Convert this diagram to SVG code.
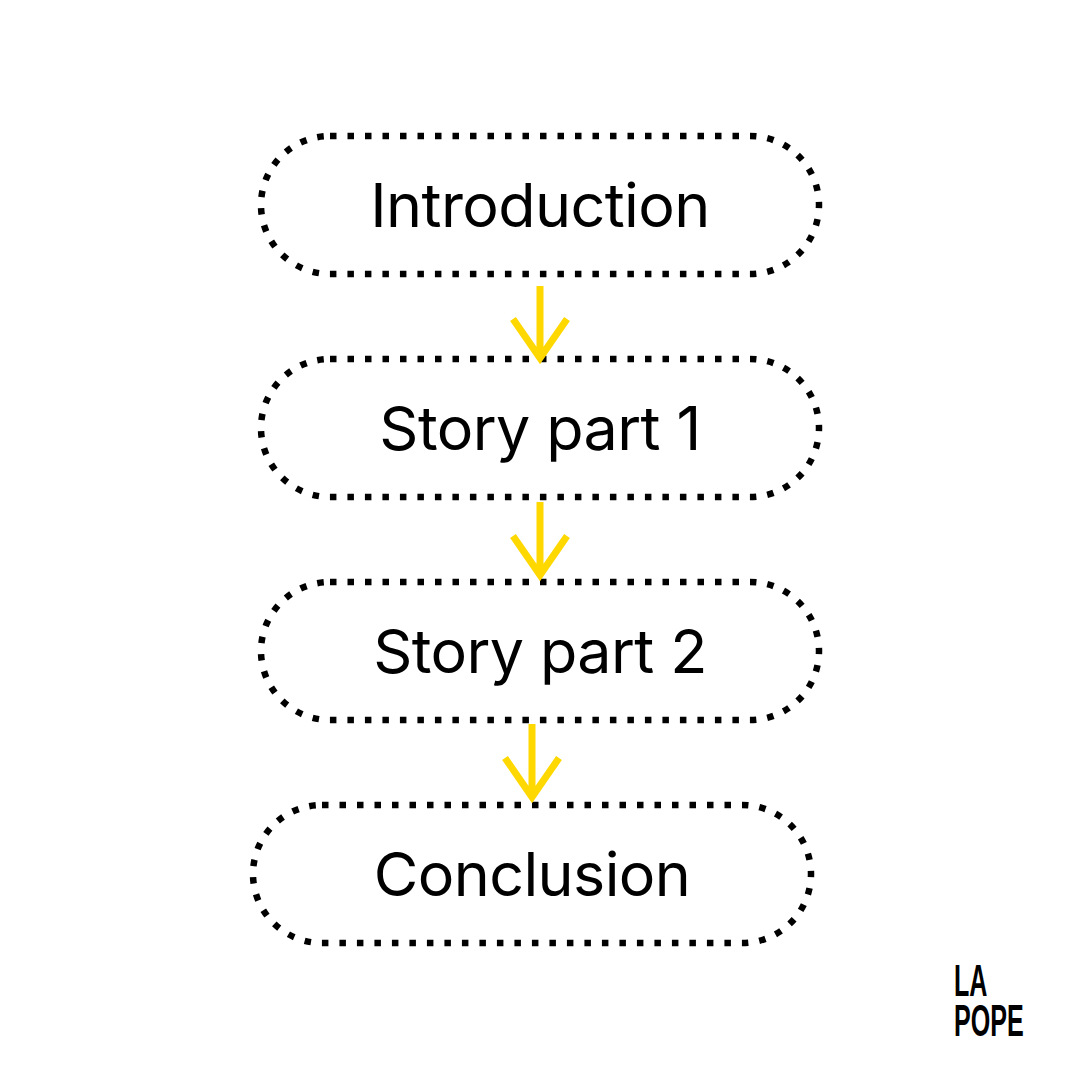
<svg xmlns="http://www.w3.org/2000/svg" width="1080" height="1080" viewBox="0 0 1080 1080">
<style>
.box{fill:none;stroke:#000;stroke-width:6.5;stroke-dasharray:6.5 11}
.lbl{font-family:"Inter","Liberation Sans",sans-serif;font-size:61px;fill:#000;text-anchor:middle;letter-spacing:-0.6px}
.arr{fill:none;stroke:#FFD800;stroke-width:7}
.logo{font-family:"Liberation Sans",sans-serif;font-weight:bold;font-size:38px;fill:#000}
</style>
<rect width="1080" height="1080" fill="#fff"/>
<g id="n1"><rect class="box" x="261" y="136" width="558" height="138" rx="69"/><text class="lbl" x="540" y="227">Introduction</text></g>
<g id="n2"><rect class="box" x="261" y="359" width="558" height="138" rx="69"/><text class="lbl" x="540" y="450">Story part 1</text></g>
<g id="n3"><rect class="box" x="261" y="582" width="558" height="138" rx="69"/><text class="lbl" x="540" y="673">Story part 2</text></g>
<g id="n4"><rect class="box" x="253" y="805" width="558" height="138" rx="69"/><text class="lbl" x="532" y="896">Conclusion</text></g>
<g id="connectors">
<path class="arr" d="M540 286V358M513 319L540 358L567 319"/>
<path class="arr" d="M540 502V575M513 536L540 575L567 536"/>
<path class="arr" d="M532 724V797M505 758L532 797L559 758"/>
</g>
<g id="logo"><text class="logo" transform="translate(954 996) scale(0.66 1.15)">LA</text><text class="logo" transform="translate(954 1036) scale(0.66 1.15)">POPE</text></g>
</svg>
